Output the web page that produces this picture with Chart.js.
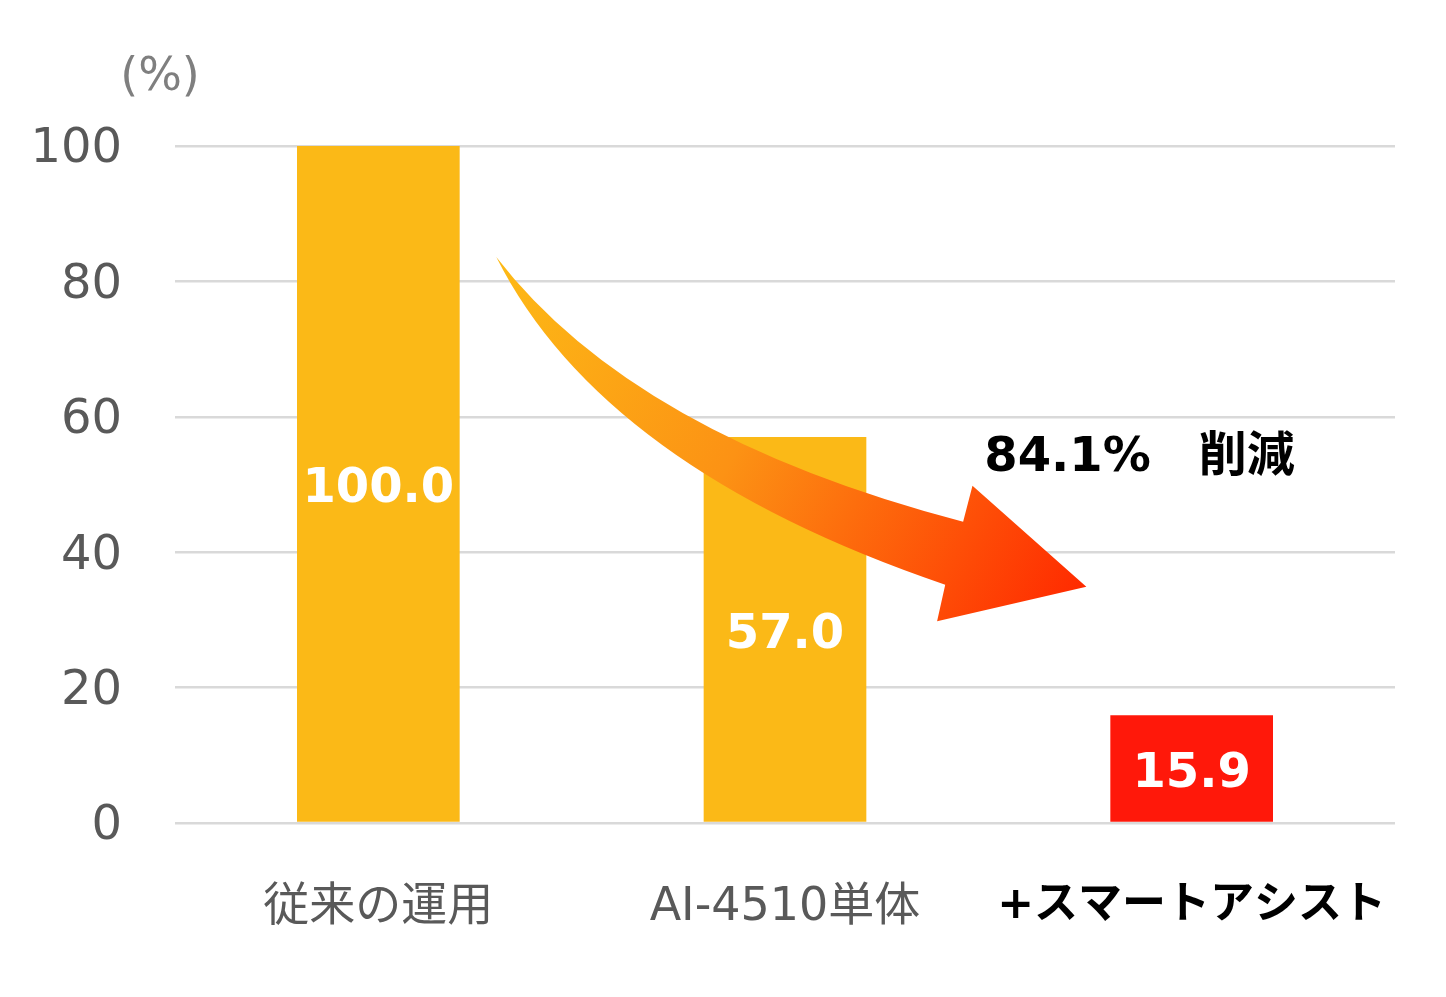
<!DOCTYPE html>
<html lang="ja">
<head>
<meta charset="utf-8">
<title>削減率</title>
<script src="https://cdn.jsdelivr.net/npm/chart.js@4.4.1/dist/chart.umd.min.js"></script>
<style>
  html, body { margin: 0; padding: 0; background: #fff; }
  #wrap { width: 1446px; height: 997px; }
</style>
</head>
<body>
<div id="wrap"><canvas id="chart" width="1446" height="997"></canvas></div>
<script>
// Data
const categories = ['従来の運用', 'AI-4510単体', '+スマートアシスト'];
const values = [100.0, 57.0, 15.9];
const yTicks = [0, 20, 40, 60, 80, 100];
const unitLabel = '(%)';
const reductionLabel = '84.1%\u3000削減';

// Styles
const BAR_COLORS = ['#FBB917', '#FBB917', '#FF180A'];
const GRID_COLOR = '#D9D9D9';
const TICK_COLOR = '#595959';
const FONT = '"DejaVu Sans", "Noto Sans CJK JP", sans-serif';

// Arrow outline in (category index, value) units, so it follows the scales
const ARROW = {
  start: [0.290, 83.6],
  upperCtrl: [0.629, 57.2],
  upperNotch: [1.438, 44.5],
  headUpper: [1.461, 49.8],
  tip: [1.741, 34.9],
  headLower: [1.374, 29.8],
  lowerNotch: [1.394, 35.2],
  lowerCtrl: [0.551, 52.4]
};

function toPixel(chart, pt) {
  const x = chart.scales.x;
  const y = chart.scales.y;
  const x0 = x.getPixelForValue(0);
  const step = x.getPixelForValue(1) - x0;
  return [x0 + pt[0] * step, y.getPixelForValue(pt[1])];
}

// ============================================================================
// Plugins
// ============================================================================

const arrowPlugin = {
  id: 'arrow',
  afterDatasetsDraw(chart) {
    const ctx = chart.ctx;
    const p = {};
    Object.keys(ARROW).forEach((k) => { p[k] = toPixel(chart, ARROW[k]); });

    const grad = ctx.createLinearGradient(p.start[0], p.start[1], p.tip[0], p.tip[1]);
    grad.addColorStop(0, '#FDBA16');
    grad.addColorStop(0.45, '#FC9214');
    grad.addColorStop(1, '#FF2A00');

    ctx.save();
    ctx.beginPath();
    ctx.moveTo(p.start[0], p.start[1]);
    ctx.quadraticCurveTo(p.upperCtrl[0], p.upperCtrl[1], p.upperNotch[0], p.upperNotch[1]);
    ctx.lineTo(p.headUpper[0], p.headUpper[1]);
    ctx.lineTo(p.tip[0], p.tip[1]);
    ctx.lineTo(p.headLower[0], p.headLower[1]);
    ctx.lineTo(p.lowerNotch[0], p.lowerNotch[1]);
    ctx.quadraticCurveTo(p.lowerCtrl[0], p.lowerCtrl[1], p.start[0], p.start[1]);
    ctx.closePath();
    ctx.fillStyle = grad;
    ctx.fill();

    // reduction note
    const note = toPixel(chart, [1.49, 54.4]);
    ctx.font = 'bold 48px ' + FONT;
    ctx.fillStyle = '#000';
    ctx.textAlign = 'left';
    ctx.textBaseline = 'middle';
    ctx.fillText(reductionLabel, note[0], note[1] + 4);
    ctx.restore();
  }
};

const valueLabelPlugin = {
  id: 'valueLabels',
  afterDatasetsDraw(chart) {
    const ctx = chart.ctx;
    const meta = chart.getDatasetMeta(0);
    ctx.save();
    ctx.font = 'bold 48px ' + FONT;
    ctx.fillStyle = '#fff';
    ctx.textAlign = 'center';
    ctx.textBaseline = 'middle';
    meta.data.forEach((bar, i) => {
      const mid = (bar.y + bar.base) / 2;
      ctx.fillText(values[i].toFixed(1), bar.x, mid + 6);
    });
    ctx.restore();
  }
};

const unitPlugin = {
  id: 'unitLabel',
  afterDraw(chart) {
    const ctx = chart.ctx;
    const area = chart.chartArea;
    ctx.save();
    ctx.font = '46px ' + FONT;
    ctx.fillStyle = '#7F7F7F';
    ctx.textAlign = 'center';
    ctx.textBaseline = 'middle';
    ctx.fillText(unitLabel, area.left - 15, area.top - 68);
    ctx.restore();
  }
};

// ============================================================================
// Chart
// ============================================================================

new Chart(document.getElementById('chart'), {
  type: 'bar',
  data: {
    labels: categories,
    datasets: [
      {
        data: values,
        backgroundColor: BAR_COLORS,
        borderWidth: 0,
        barPercentage: 0.4,
        categoryPercentage: 1.0
      }
    ]
  },
  options: {
    responsive: false,
    animation: false,
    devicePixelRatio: 1,
    layout: { padding: { top: 146, right: 51, left: 0, bottom: 0 } },
    plugins: {
      legend: { display: false },
      tooltip: { enabled: false }
    },
    scales: {
      x: {
        grid: { display: false, drawTicks: false },
        border: { display: false },
        afterFit: (scale) => {
          scale.height = 174;
          scale.paddingLeft = 0;
          scale.paddingRight = 0;
        },
        ticks: {
          padding: 57,
          autoSkip: false,
          maxRotation: 0,
          minRotation: 0,
          color: (c) => (c.index === 2 ? '#000' : TICK_COLOR),
          font: (c) => ({
            family: FONT,
            size: c.index === 2 ? 44 : 46,
            weight: c.index === 2 ? 'bold' : 'normal'
          })
        }
      },
      y: {
        min: 0,
        max: 100,
        afterBuildTicks: (scale) => { scale.ticks = yTicks.map((v) => ({ value: v })); },
        afterFit: (scale) => { scale.width = 175; },
        grid: { color: GRID_COLOR, lineWidth: 2.5, drawTicks: false },
        border: { display: false },
        ticks: {
          padding: 53,
          labelOffset: 4,
          color: TICK_COLOR,
          font: { family: FONT, size: 48 }
        }
      }
    }
  },
  plugins: [arrowPlugin, valueLabelPlugin, unitPlugin]
});
</script>
</body>
</html>
